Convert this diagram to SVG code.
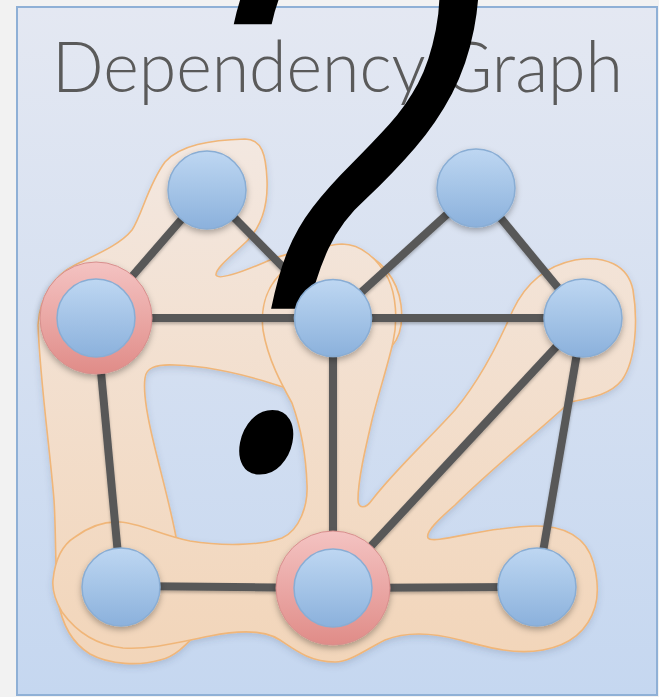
<svg xmlns="http://www.w3.org/2000/svg" width="659" height="697" viewBox="0 0 659 697">
  <defs>
    <linearGradient id="panelFill" x1="0" y1="0" x2="0" y2="1">
      <stop offset="0" stop-color="#e4e8f2"/>
      <stop offset="1" stop-color="#c5d7f0"/>
    </linearGradient>
    <linearGradient id="blobFill" gradientUnits="userSpaceOnUse" x1="0" y1="130" x2="0" y2="670">
      <stop offset="0" stop-color="#f3e8e1"/>
      <stop offset="1" stop-color="#f2d5b9"/>
    </linearGradient>
    <linearGradient id="nodeFill" x1="0" y1="0" x2="0" y2="1">
      <stop offset="0" stop-color="#bed7f2"/>
      <stop offset="1" stop-color="#8bb1dc"/>
    </linearGradient>
    <linearGradient id="ringFill" x1="0" y1="0" x2="0" y2="1">
      <stop offset="0" stop-color="#f4c3c2"/>
      <stop offset="1" stop-color="#e08c88"/>
    </linearGradient>
    <filter id="softShadow" x="-20%" y="-20%" width="140%" height="150%">
      <feDropShadow dx="0" dy="3" stdDeviation="3" flood-color="#000" flood-opacity="0.3"/>
    </filter>
    <filter id="blobShadow" x="-10%" y="-10%" width="120%" height="125%">
      <feDropShadow dx="0" dy="3" stdDeviation="3" flood-color="#3a4a66" flood-opacity="0.18"/>
    </filter>
    <filter id="lineShadow" x="-10%" y="-10%" width="120%" height="120%">
      <feDropShadow dx="0" dy="2" stdDeviation="1.5" flood-color="#000" flood-opacity="0.25"/>
    </filter>
  </defs>
  <style>
    .blob { fill: url(#blobFill); stroke: #f0b679; stroke-width: 1.6; }
    .edge { stroke: #595959; stroke-width: 8; fill: none; }
    .node { fill: url(#nodeFill); stroke: #89add4; stroke-width: 1.5; }
    .ring { fill: url(#ringFill); stroke: #d78f8d; stroke-width: 1; }
    .title { font-family: Lato, "Open Sans", "Liberation Sans", sans-serif; font-weight: 300; font-size: 71px; fill: #5a5a5a; }
    .mark { font-family: Roboto, "Liberation Sans", sans-serif; font-weight: 300; font-size: 1000px; fill: #000; }
  </style>

  <!-- page and panel -->
  <rect x="0" y="0" width="659" height="697" fill="#f2f2f2"/>
  <rect x="17" y="7" width="640" height="688" fill="url(#panelFill)" stroke="#8fb0d6" stroke-width="2"/>

  <text class="title" x="52" y="92" textLength="571" lengthAdjust="spacingAndGlyphs">Dependency Graph</text>

  <!-- grouping regions -->
  <g id="regions" filter="url(#blobShadow)">
    <path id="region-left" class="blob" fill-rule="evenodd" d="
      M 38,325 C 40,295 55,275 75,265 C 95,255 120,245 132,230 C 142,215 148,185 165,162
      C 180,145 210,140 245,139 C 262,139 266,155 267,180 C 268,205 262,225 248,240
      C 235,253 215,268 216,275 C 219,281 245,271 270,260 C 295,250 330,245 355,250
      C 380,256 398,280 401,305 C 403,322 401,336 392,346 L 345,420 L 335,600 L 205,625
      C 190,640 178,656 160,660 C 140,666 110,665 90,654 C 72,643 62,625 58,600
      C 55,570 56,530 54,500 C 50,450 40,380 38,325 Z
      M 145,378 C 146,368 155,364 175,365 C 210,366 250,376 283,387 L 322,395 L 322,520
      L 300,578 L 180,578 L 176,537 C 170,505 160,470 153,440 C 147,415 143,392 145,378 Z"/>
    <path id="region-bottom" class="blob" d="
      M 53,580 C 55,560 62,545 75,537 C 90,526 105,521 120,522 C 140,523 160,535 190,541
      C 220,546 260,546 282,538 C 300,530 308,505 307,485 C 306,455 300,425 292,403
      C 282,385 268,360 263,330 C 260,305 268,283 287,268 C 305,253 323,245 342,244
      C 362,244 378,260 388,278 C 396,295 398,320 393,342 C 388,365 378,395 372,420
      C 365,450 358,480 358,500 C 358,508 365,510 372,500 C 395,470 430,438 455,410
      C 480,380 500,340 513,310 C 525,285 545,266 575,260 C 605,255 628,265 633,290
      C 638,320 636,360 622,380 C 610,395 590,398 570,402 C 540,430 490,470 455,505
      C 440,518 425,532 428,538 C 432,544 470,532 500,529 C 530,525 560,522 580,540
      C 597,555 600,590 595,607 C 588,630 570,645 543,650 C 515,655 490,648 460,640
      C 430,632 405,632 385,640 C 365,650 350,662 335,662 C 310,662 295,650 280,640
      C 265,630 240,630 210,636 C 180,642 150,650 123,648 C 95,645 75,630 62,612
      C 55,600 52,590 53,580 Z"/>
  </g>

  <!-- connectors -->
  <g id="connectors" class="edge" filter="url(#lineShadow)">
    <line x1="207" y1="190" x2="96" y2="318"/>
    <line x1="207" y1="190" x2="333" y2="318"/>
    <line x1="96" y1="318" x2="333" y2="318"/>
    <line x1="333" y1="318" x2="476" y2="188"/>
    <line x1="476" y1="188" x2="583" y2="318"/>
    <line x1="333" y1="318" x2="583" y2="318"/>
    <line x1="96" y1="318" x2="121" y2="587"/>
    <line x1="333" y1="318" x2="333" y2="587"/>
    <line x1="583" y1="318" x2="333" y2="587"/>
    <line x1="583" y1="318" x2="537" y2="587"/>
    <line x1="121" y1="586" x2="333" y2="588"/>
    <line x1="333" y1="588" x2="537" y2="587"/>
  </g>

  <!-- question mark overlay -->
  <text class="mark" text-anchor="middle" transform="translate(268,471) skewX(-11) scale(0.65,0.82)">?</text>

  <!-- nodes -->
  <g id="node-a" filter="url(#softShadow)"><circle class="node" cx="207" cy="190" r="39"/></g>
  <g id="node-b" filter="url(#softShadow)">
    <circle class="ring" cx="96" cy="318" r="56"/>
    <circle class="node" cx="96" cy="318" r="39"/>
  </g>
  <g id="node-c" filter="url(#softShadow)"><circle class="node" cx="333" cy="318" r="38.5"/></g>
  <g id="node-d" filter="url(#softShadow)"><circle class="node" cx="476" cy="188" r="39"/></g>
  <g id="node-e" filter="url(#softShadow)"><circle class="node" cx="583" cy="318" r="39"/></g>
  <g id="node-f" filter="url(#softShadow)"><circle class="node" cx="121" cy="587" r="39"/></g>
  <g id="node-g" filter="url(#softShadow)">
    <circle class="ring" cx="333" cy="588" r="57"/>
    <circle class="node" cx="333" cy="588" r="39"/>
  </g>
  <g id="node-h" filter="url(#softShadow)"><circle class="node" cx="537" cy="587" r="39"/></g>
</svg>
